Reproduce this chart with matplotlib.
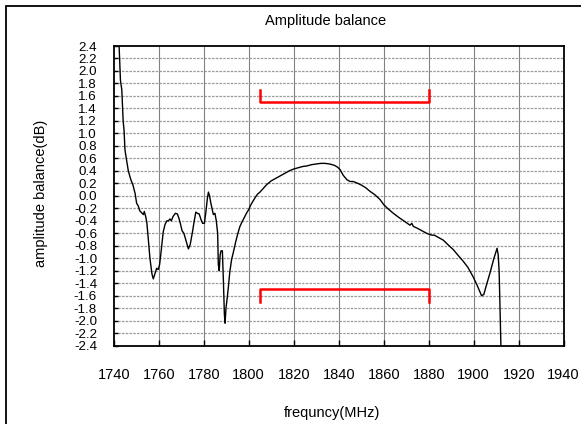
import numpy as np
import matplotlib
matplotlib.use('Agg')
from matplotlib import pyplot as plt
from matplotlib.patches import Rectangle

plt.rcParams['font.family'] = ['Liberation Sans', 'DejaVu Sans']

freq = [1742.2, 1742.4, 1743.0, 1743.6, 1744.2, 1744.6, 1745.0, 1745.5, 1746.5, 1747.6,
        1748.5, 1749.5, 1750.2, 1750.9, 1751.6, 1752.4, 1753.2, 1753.6, 1754.2, 1754.7,
        1755.4, 1756.1, 1757.0, 1757.6, 1758.4, 1759.1, 1759.8, 1760.4, 1761.2, 1762.0,
        1762.8, 1763.6, 1764.3, 1765.0, 1765.6, 1766.4, 1767.4, 1768.3, 1769.0, 1769.6,
        1770.4, 1771.2, 1772.0, 1773.2, 1774.0, 1775.0, 1775.8, 1776.5, 1777.2, 1778.0,
        1778.8, 1779.5, 1780.3, 1781.0, 1781.6, 1782.1, 1782.6, 1783.2, 1783.8, 1784.3,
        1785.0, 1785.6, 1786.2, 1786.5, 1786.9, 1787.3, 1787.7, 1788.3, 1788.7, 1789.2,
        1789.5, 1789.9, 1790.5, 1791.0, 1791.6, 1792.4, 1793.2, 1794.2, 1795.2, 1796.1,
        1797.0, 1798.0, 1799.0, 1800.0, 1801.0, 1802.0, 1803.0, 1804.0, 1805.0, 1806.5,
        1808.0, 1810.0, 1812.0, 1814.0, 1816.0, 1818.0, 1820.0, 1822.0, 1824.0, 1826.0,
        1828.0, 1830.0, 1832.0, 1834.0, 1836.0, 1838.0, 1839.5, 1840.6, 1842.0, 1843.6,
        1845.0, 1846.3, 1847.2, 1848.5, 1850.2, 1852.0, 1854.0, 1856.0, 1858.4, 1860.0,
        1862.0, 1864.3, 1866.5, 1868.5, 1870.5, 1871.7, 1872.5, 1873.2, 1875.0, 1877.0,
        1879.1, 1880.5, 1881.5, 1882.5, 1884.0, 1886.5, 1888.5, 1890.9, 1893.0, 1895.4,
        1897.5, 1899.8, 1901.5, 1903.5, 1904.5, 1905.5, 1907.2, 1909.0, 1910.4, 1910.9,
        1911.3, 1912.1, 1912.3]
balance = [2.60, 2.40, 1.85, 1.70, 1.20, 1.05, 0.74, 0.62, 0.40, 0.26,
           0.18, 0.04, -0.12, -0.16, -0.24, -0.27, -0.30, -0.25, -0.33, -0.42,
           -0.70, -1.00, -1.25, -1.33, -1.24, -1.16, -1.18, -1.10, -0.85, -0.58,
           -0.46, -0.40, -0.40, -0.37, -0.40, -0.33, -0.28, -0.29, -0.36, -0.44,
           -0.56, -0.60, -0.70, -0.85, -0.78, -0.58, -0.40, -0.26, -0.28, -0.29,
           -0.38, -0.44, -0.44, -0.25, -0.05, 0.06, 0.00, -0.12, -0.22, -0.30,
           -0.28, -0.40, -0.60, -1.10, -1.20, -0.95, -0.88, -0.88, -1.30, -1.90,
           -2.04, -1.80, -1.62, -1.45, -1.22, -1.02, -0.90, -0.74, -0.60, -0.49,
           -0.42, -0.35, -0.28, -0.22, -0.14, -0.08, -0.02, 0.03, 0.06, 0.12,
           0.18, 0.24, 0.28, 0.32, 0.36, 0.40, 0.43, 0.45, 0.47, 0.48,
           0.50, 0.51, 0.52, 0.52, 0.51, 0.49, 0.46, 0.42, 0.33, 0.26,
           0.23, 0.23, 0.22, 0.20, 0.17, 0.13, 0.07, 0.02, -0.06, -0.14,
           -0.21, -0.28, -0.34, -0.39, -0.44, -0.47, -0.44, -0.49, -0.52, -0.56,
           -0.60, -0.62, -0.63, -0.63, -0.66, -0.71, -0.78, -0.86, -0.95, -1.05,
           -1.15, -1.30, -1.43, -1.60, -1.58, -1.45, -1.24, -1.00, -0.84, -0.95,
           -1.20, -2.40, -2.60]

# spec limits (red brackets)
spec_f = [1805, 1880]
spec_hi = 1.5
spec_lo = -1.5
spec_tick = 0.2

xticks = np.arange(1740, 1941, 20)
yticks = np.round(np.arange(-2.4, 2.41, 0.2), 1)

fig = plt.figure(figsize=(5.81, 4.24), dpi=100)
ax = fig.add_axes([0.1957, 0.1847, 0.7745, 0.7068])

# figure frame
fig.patches.append(Rectangle((6 / 581, -0.05), 1.2, 1 - 6 / 424 + 0.05, transform=fig.transFigure,
                             fill=False, edgecolor='black', linewidth=1.3))

for x in xticks[1:-1]:
    ax.axvline(x, color='#808080', linewidth=0.8, zorder=1)
for y in yticks[1:-1]:
    ax.axhline(y, color='#9a9a9a', linewidth=0.9, linestyle=(0, (2, 1)), zorder=1)

ax.plot(freq, balance, color='black', linewidth=1.0, zorder=3)

# spec brackets
ax.plot([spec_f[0], spec_f[0], spec_f[1], spec_f[1]],
        [spec_hi + spec_tick, spec_hi, spec_hi, spec_hi + spec_tick], color='#ff0000', linewidth=1.8, zorder=4)
ax.plot([spec_f[0], spec_f[0], spec_f[1], spec_f[1]],
        [spec_lo - spec_tick, spec_lo, spec_lo, spec_lo - spec_tick], color='#ff0000', linewidth=1.8, zorder=4)

ax.set_xlim(1740, 1940)
ax.set_ylim(-2.4, 2.4)
ax.set_xticks(xticks)
ax.set_yticks(yticks)
ax.set_yticklabels(['%.1f' % v for v in yticks])
ax.tick_params(axis='x', direction='in', length=4, width=1, pad=16, labelsize=10.5, top=False)
ax.tick_params(axis='y', direction='in', length=3, width=1, pad=12, labelsize=9.6, right=False)
for s in ax.spines.values():
    s.set_linewidth(1.3)

fig.text(326 / 581, 1 - 21 / 424, 'Amplitude balance', ha='center', va='center', fontsize=10.5)
fig.text(332 / 581, 1 - 413 / 424, 'frequncy(MHz)', ha='center', va='center', fontsize=10.5)
fig.text(41 / 581, 1 - 193 / 424, 'amplitude balance(dB)', ha='center', va='center', rotation=90, fontsize=10.5)

fig.savefig('out.png', dpi=100)
